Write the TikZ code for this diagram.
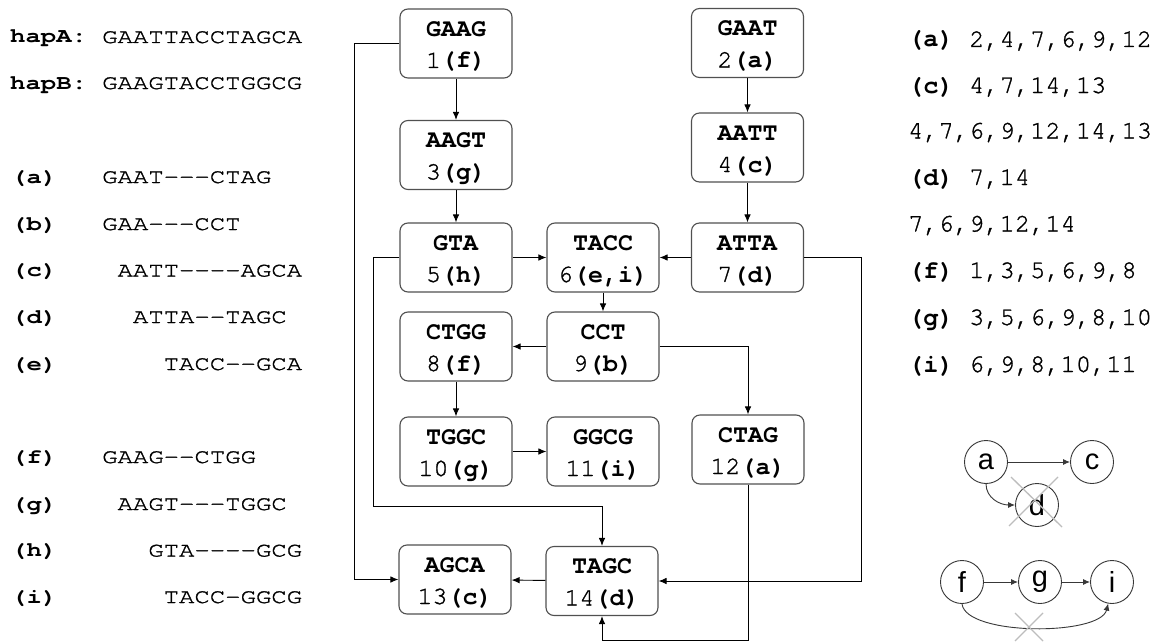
\documentclass[tikz,border=0pt]{standalone}
\usepackage{fontspec}
\newfontfamily\mono[UprightFeatures={FakeBold=1.2}]{TeX Gyre Cursor}
\newfontfamily\monols[FakeStretch=1.25,UprightFeatures={FakeBold=1.4}]{TeX Gyre Cursor}
\newfontfamily\circfont{Liberation Sans}
\usetikzlibrary{arrows.meta}
\definecolor{boxgray}{HTML}{505050}
\definecolor{circgray}{HTML}{383838}
\definecolor{crossgray}{HTML}{BDBDBD}
\newcommand\bxt[3]{\rule{0pt}{23pt}\textbf{#1}\\#2\textbf{#3}\rule[-6pt]{0pt}{6pt}}
\tikzset{
  box/.style={draw=boxgray, line width=1.1pt, rounded corners=8pt, minimum width=112pt,
    minimum height=69pt, inner sep=0pt, align=center, fill=white,
    font=\mono\fontsize{25}{32}\selectfont},
  conn/.style={draw=black, line width=0.9pt, -{Latex[length=8pt,width=6.5pt]}},
  lefttxt/.style={anchor=base west, inner sep=0pt, font=\monols\fontsize{20.5}{20.5}\selectfont},
  leftlab/.style={anchor=base west, inner sep=0pt, font=\monols\bfseries\fontsize{20.5}{20.5}\selectfont},
  righttxt/.style={anchor=base west, inner sep=0pt, font=\mono\fontsize{25.4}{25.4}\selectfont},
  rightlab/.style={anchor=base west, inner sep=0pt, font=\mono\bfseries\fontsize{25.4}{25.4}\selectfont},
  circ/.style={circle, draw=circgray, line width=0.9pt, minimum size=43pt, inner sep=0pt,
    font=\circfont\fontsize{29}{29}\selectfont},
  carrow/.style={draw=circgray, line width=0.9pt, -{Latex[length=7pt,width=6pt]}},
  xline/.style={draw=crossgray, line width=1.3pt}
}
\begin{document}
\begin{tikzpicture}[x=1pt,y=-1pt]
\useasboundingbox[fill=white] (0,0) rectangle (1162,642);

% ---------- left panel ----------
\def\adv{15.375}
\node[leftlab] (lhA) at (10,43) {hapA:};
\node[lefttxt] (shA) at (102,43) {GAATTACCTAGCA};
\node[leftlab] (lhB) at (10,89) {hapB:};
\node[lefttxt] (shB) at (102,89) {GAAGTACCTGGCG};
\node[leftlab] (la) at (11,183) {(a)};
\node[lefttxt] (sa) at (102,183) {GAAT---CTAG};
\node[leftlab] (lb) at (11,230) {(b)};
\node[lefttxt] (sb) at (102,230) {GAA---CCT};
\node[leftlab] (lc) at (11,276.5) {(c)};
\node[lefttxt] (sc) at (102+1*\adv,276.5) {AATT----AGCA};
\node[leftlab] (ld) at (11,323) {(d)};
\node[lefttxt] (sd) at (102+2*\adv,323) {ATTA--TAGC};
\node[leftlab] (le) at (11,370) {(e)};
\node[lefttxt] (se) at (102+4*\adv,370) {TACC--GCA};
\node[leftlab] (lf) at (11,463) {(f)};
\node[lefttxt] (sf) at (102,463) {GAAG--CTGG};
\node[leftlab] (lg) at (11,510) {(g)};
\node[lefttxt] (sg) at (102+1*\adv,510) {AAGT---TGGC};
\node[leftlab] (lh) at (11,556.5) {(h)};
\node[lefttxt] (sh) at (102+3*\adv,556.5) {GTA----GCG};
\node[leftlab] (li) at (11,603) {(i)};
\node[lefttxt] (si) at (102+4*\adv,603) {TACC-GGCG};

% ---------- graph boxes ----------
\node[box] (n1) at (456,43.5) {\bxt{GAAG}{1}{(f)}};
\node[box] (n2) at (747.5,43) {\bxt{GAAT}{2}{(a)}};
\node[box] (n3) at (456,155) {\bxt{AAGT}{3}{(g)}};
\node[box] (n4) at (747.5,147.5) {\bxt{AATT}{4}{(c)}};
\node[box] (n5) at (456,257.5) {\bxt{GTA}{5}{(h)}};
\node[box] (n6) at (603,257.5) {\bxt{TACC}{6}{(e,i)}};
\node[box] (n7) at (747.5,257.5) {\bxt{ATTA}{7}{(d)}};
\node[box] (n8) at (456,346.5) {\bxt{CTGG}{8}{(f)}};
\node[box] (n9) at (603,346.5) {\bxt{CCT}{9}{(b)}};
\node[box] (n10) at (456,451.5) {\bxt{TGGC}{10}{(g)}};
\node[box] (n11) at (603,451.5) {\bxt{GGCG}{11}{(i)}};
\node[box] (n12) at (748,449.5) {\bxt{CTAG}{12}{(a)}};
\node[box] (n13) at (455,579.5) {\bxt{AGCA}{13}{(c)}};
\node[box] (n14) at (602,581) {\bxt{TAGC}{14}{(d)}};

% ---------- connectors ----------
\draw[conn] (n1) -- (n3);
\draw[conn] (n3) -- (n5);
\draw[conn] (n2) -- (n4);
\draw[conn] (n4) -- (n7);
\draw[conn] (n5) -- (n6);
\draw[conn] (n7) -- (n6);
\draw[conn] (n6) -- (n9);
\draw[conn] (n9) -- (n8);
\draw[conn] (n8) -- (n10);
\draw[conn] (n10) -- (n11);
\draw[conn] (n14) -- (n13);
\draw[conn] (n9.east) -| (n12.north);
\draw[conn] (n1.west) -- ++(-45,0) |- (n13.west);
\draw[conn] (n5.west) -- ++(-26,0) -- ++(0,248.5) -| (n14.north);
\draw[conn] (n7.east) -- ++(57,0) |- (n14.east);
\draw[conn] (n12.south) -- ++(0,156) -| (n14.south);

% ---------- right panel ----------
\def\radv{15.24}
\node[rightlab] (ra) at (908,47) {(a)};
\node[righttxt] (va) at (908+4*\radv,47) {2,4,7,6,9,12};
\node[rightlab] (rc) at (908,93) {(c)};
\node[righttxt] (vc) at (908+4*\radv,93) {4,7,14,13};
\node[righttxt] (vc2) at (908,138.5) {4,7,6,9,12,14,13};
\node[rightlab] (rd) at (908,185) {(d)};
\node[righttxt] (vd) at (908+4*\radv,185) {7,14};
\node[righttxt] (vd2) at (908,231.5) {7,6,9,12,14};
\node[rightlab] (rf) at (908,278) {(f)};
\node[righttxt] (vf) at (908+4*\radv,278) {1,3,5,6,9,8};
\node[rightlab] (rg) at (908,325) {(g)};
\node[righttxt] (vg) at (908+4*\radv,325) {3,5,6,9,8,10};
\node[rightlab] (ri) at (908,372) {(i)};
\node[righttxt] (vi) at (908+4*\radv,372) {6,9,8,10,11};

% ---------- small graphs ----------
\node[circ] (ga) at (986,462) {a};
\node[circ] (gc) at (1092,462) {c};
\node[circ] (gd) at (1037,505) {d};
\draw[carrow] (ga) -- (gc);
\draw[carrow] (ga.south) .. controls (986,498) and (1000,505) .. (gd.west);
\draw[xline] (1011,477) -- (1062,527);
\draw[xline] (1058,477) -- (1009,526);

\node[circ] (gf) at (962,582) {f};
\node[circ] (gg) at (1040,582) {g};
\node[circ] (gi) at (1112,582) {i};
\draw[carrow] (gf) -- (gg);
\draw[carrow] (gg) -- (gi);
\draw[carrow] (gf.south) .. controls (966,636) and (1100,636) .. (gi.-100);
\draw[xline] (1015,613) -- (1043,641);
\draw[xline] (1043,613) -- (1015,641);
\end{tikzpicture}
\end{document}
